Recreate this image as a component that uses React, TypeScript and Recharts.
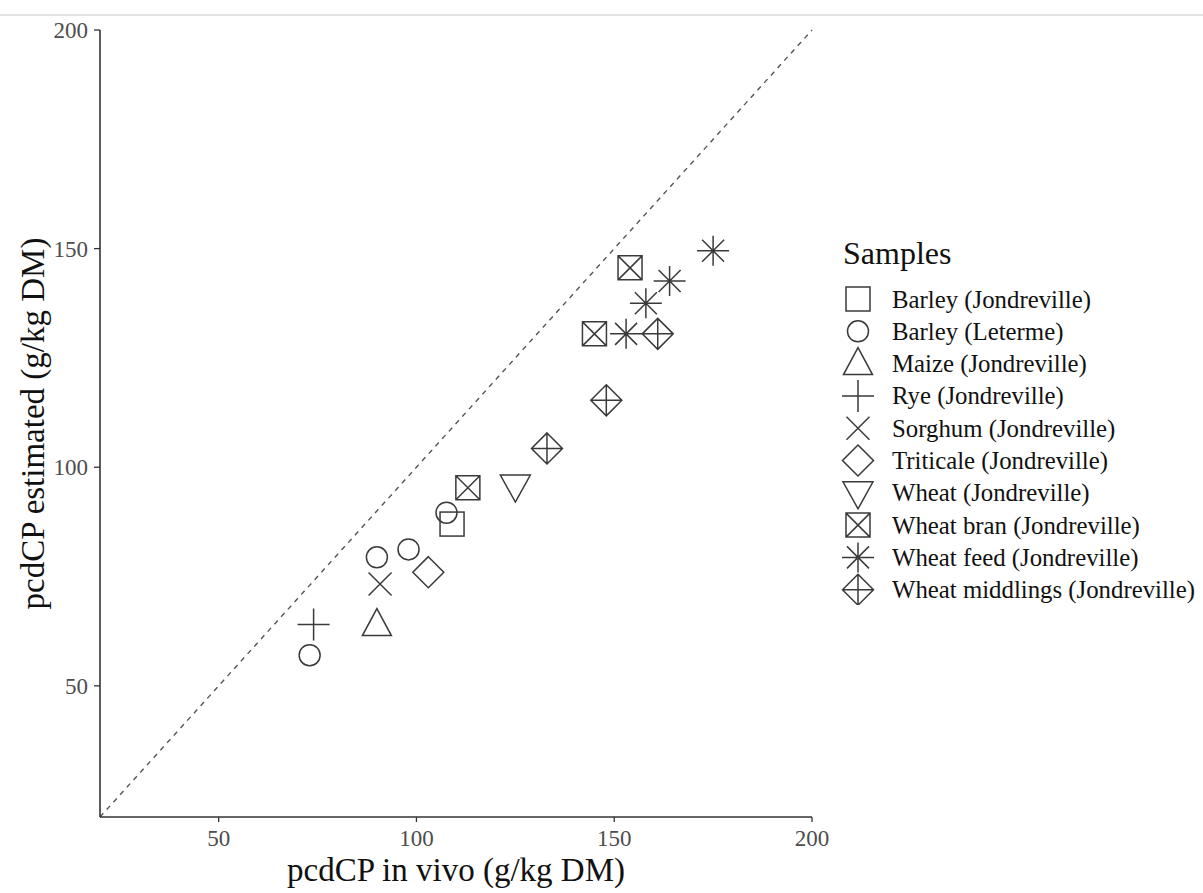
import { ScatterChart, Scatter, XAxis, YAxis, ReferenceLine, Label } from 'recharts'

// values (pcdCP in vivo vs estimated, g/kg DM)
const barleyJondreville = [{ x: 109, y: 87 }]
const barleyLeterme = [
  { x: 73, y: 57 },
  { x: 90, y: 79.4 },
  { x: 98, y: 81.2 },
  { x: 107.6, y: 89.6 },
]
const maizeJondreville = [{ x: 90, y: 64 }]
const ryeJondreville = [{ x: 74, y: 64 }]
const sorghumJondreville = [{ x: 90.8, y: 73.3 }]
const triticaleJondreville = [{ x: 103, y: 76 }]
const wheatJondreville = [{ x: 125, y: 95.7 }]
const wheatBranJondreville = [
  { x: 113, y: 95.3 },
  { x: 145, y: 130.5 },
  { x: 154, y: 145.6 },
]
const wheatFeedJondreville = [
  { x: 153, y: 130.5 },
  { x: 158, y: 137.5 },
  { x: 164, y: 142.6 },
  { x: 175, y: 149.5 },
]
const wheatMiddlingsJondreville = [
  { x: 133, y: 104.3 },
  { x: 148, y: 115.3 },
  { x: 161, y: 130.5 },
]

const xTicks = [50, 100, 150, 200]
const yTicks = [50, 100, 150, 200]

type Kind =
  | 'square'
  | 'circle'
  | 'triangle'
  | 'plus'
  | 'cross'
  | 'diamond'
  | 'triangleDown'
  | 'squareCross'
  | 'asterisk'
  | 'diamondPlus'

const series: { name: string; kind: Kind; data: { x: number; y: number }[] }[] = [
  { name: 'Barley (Jondreville)', kind: 'square', data: barleyJondreville },
  { name: 'Barley (Leterme)', kind: 'circle', data: barleyLeterme },
  { name: 'Maize (Jondreville)', kind: 'triangle', data: maizeJondreville },
  { name: 'Rye (Jondreville)', kind: 'plus', data: ryeJondreville },
  { name: 'Sorghum (Jondreville)', kind: 'cross', data: sorghumJondreville },
  { name: 'Triticale (Jondreville)', kind: 'diamond', data: triticaleJondreville },
  { name: 'Wheat (Jondreville)', kind: 'triangleDown', data: wheatJondreville },
  { name: 'Wheat bran (Jondreville)', kind: 'squareCross', data: wheatBranJondreville },
  { name: 'Wheat feed (Jondreville)', kind: 'asterisk', data: wheatFeedJondreville },
  { name: 'Wheat middlings (Jondreville)', kind: 'diamondPlus', data: wheatMiddlingsJondreville },
]

const INK = '#3a3a3a'
const FONT = '"Liberation Serif", "Times New Roman", serif'

function Marker({ kind, cx, cy }: { kind: Kind; cx: number; cy: number }) {
  const p = { fill: 'none', stroke: INK, strokeWidth: 1.5 }
  const s = 12
  switch (kind) {
    case 'square':
      return <rect x={cx - s} y={cy - s} width={2 * s} height={2 * s} {...p} />
    case 'circle':
      return <circle cx={cx} cy={cy} r={10.5} {...p} />
    case 'triangle':
      return <path d={`M${cx},${cy - 16}L${cx + 14.5},${cy + 11}L${cx - 14.5},${cy + 11}Z`} {...p} />
    case 'triangleDown':
      return <path d={`M${cx},${cy + 16}L${cx + 15},${cy - 11}L${cx - 15},${cy - 11}Z`} {...p} />
    case 'plus':
      return <path d={`M${cx - 16},${cy}H${cx + 16}M${cx},${cy - 16}V${cy + 16}`} {...p} />
    case 'cross':
      return <path d={`M${cx - 11.5},${cy - 11.5}L${cx + 11.5},${cy + 11.5}M${cx - 11.5},${cy + 11.5}L${cx + 11.5},${cy - 11.5}`} {...p} />
    case 'diamond':
      return <path d={`M${cx},${cy - 15.5}L${cx + 15.5},${cy}L${cx},${cy + 15.5}L${cx - 15.5},${cy}Z`} {...p} />
    case 'squareCross':
      return (
        <path
          d={`M${cx - s},${cy - s}h${2 * s}v${2 * s}h${-2 * s}ZM${cx - s},${cy - s}L${cx + s},${cy + s}M${cx - s},${cy + s}L${cx + s},${cy - s}`}
          {...p}
        />
      )
    case 'asterisk':
      return (
        <path
          d={`M${cx - 16},${cy}H${cx + 16}M${cx},${cy - 15}V${cy + 15}M${cx - 11},${cy - 11}L${cx + 11},${cy + 11}M${cx - 11},${cy + 11}L${cx + 11},${cy - 11}`}
          {...p}
        />
      )
    case 'diamondPlus':
      return (
        <path
          d={`M${cx},${cy - 15.5}L${cx + 15.5},${cy}L${cx},${cy + 15.5}L${cx - 15.5},${cy}ZM${cx - 15.5},${cy}H${cx + 15.5}M${cx},${cy - 15.5}V${cy + 15.5}`}
          {...p}
        />
      )
  }
  return null
}

const shapeFor = (kind: Kind) => (props: any) => <Marker kind={kind} cx={props.cx} cy={props.cy} />

function Legend() {
  return (
    <svg width={370} height={380} style={{ position: 'absolute', left: 835, top: 225 }}>
      <text x={8} y={28} fontFamily={FONT} fontSize={32} fill="#111" dominantBaseline="central">
        Samples
      </text>
      {series.map((s, i) => (
        <g key={s.name}>
          <Marker kind={s.kind} cx={23} cy={74 + i * 32.3} />
          <text x={57} y={74 + i * 32.3} fontFamily={FONT} fontSize={24.8} fill="#111" dominantBaseline="central">
            {s.name}
          </text>
        </g>
      ))}
    </svg>
  )
}

export default function App() {
  return (
    <div style={{ position: 'absolute', left: 0, top: 0, width: 1203, height: 893, background: '#fff' }}>
      <div style={{ position: 'absolute', left: 0, top: 14, width: 1203, height: 2, background: '#e4e4e4' }} />
      <ScatterChart width={1203} height={893} margin={{ top: 30, right: 391, bottom: 26, left: 30 }}>
        <XAxis
          type="number"
          dataKey="x"
          domain={[20, 200]}
          ticks={xTicks}
          allowDataOverflow
          height={50}
          axisLine={{ stroke: '#333', strokeWidth: 1.6 }}
          tickLine={{ stroke: '#333', strokeWidth: 1.3 }}
          tickSize={5}
          tickMargin={8}
          tick={{ fill: '#4d4d4d', fontSize: 23, fontFamily: FONT }}
        >
          <Label
            content={({ viewBox }: any) => (
              <text
                x={viewBox.x + viewBox.width / 2}
                y={viewBox.y + 53}
                textAnchor="middle"
                dominantBaseline="central"
                fontFamily={FONT}
                fontSize={33}
                fill="#111"
              >
                pcdCP in vivo (g/kg DM)
              </text>
            )}
          />
        </XAxis>
        <YAxis
          type="number"
          dataKey="y"
          domain={[20, 200]}
          ticks={yTicks}
          allowDataOverflow
          width={70}
          axisLine={{ stroke: '#333', strokeWidth: 1.6 }}
          tickLine={{ stroke: '#333', strokeWidth: 1.3 }}
          tickSize={6}
          tickMargin={6}
          tick={{ fill: '#4d4d4d', fontSize: 23, fontFamily: FONT }}
        >
          <Label
            content={({ viewBox }: any) => {
              const cx = viewBox.x + 3
              const cy = viewBox.y + viewBox.height / 2
              return (
                <text
                  x={cx}
                  y={cy}
                  transform={`rotate(-90, ${cx}, ${cy})`}
                  textAnchor="middle"
                  dominantBaseline="central"
                  fontFamily={FONT}
                  fontSize={33}
                  fill="#111"
                >
                  pcdCP estimated (g/kg DM)
                </text>
              )
            }}
          />
        </YAxis>
        <ReferenceLine
          segment={[
            { x: 20, y: 20 },
            { x: 200, y: 200 },
          ]}
          stroke="#555"
          strokeWidth={1.4}
          strokeDasharray="5 5"
        />
        {series.map((s) => (
          <Scatter
            key={s.name}
            name={s.name}
            data={s.data}
            shape={shapeFor(s.kind)}
            isAnimationActive={false}
          />
        ))}
      </ScatterChart>
      <Legend />
    </div>
  )
}
